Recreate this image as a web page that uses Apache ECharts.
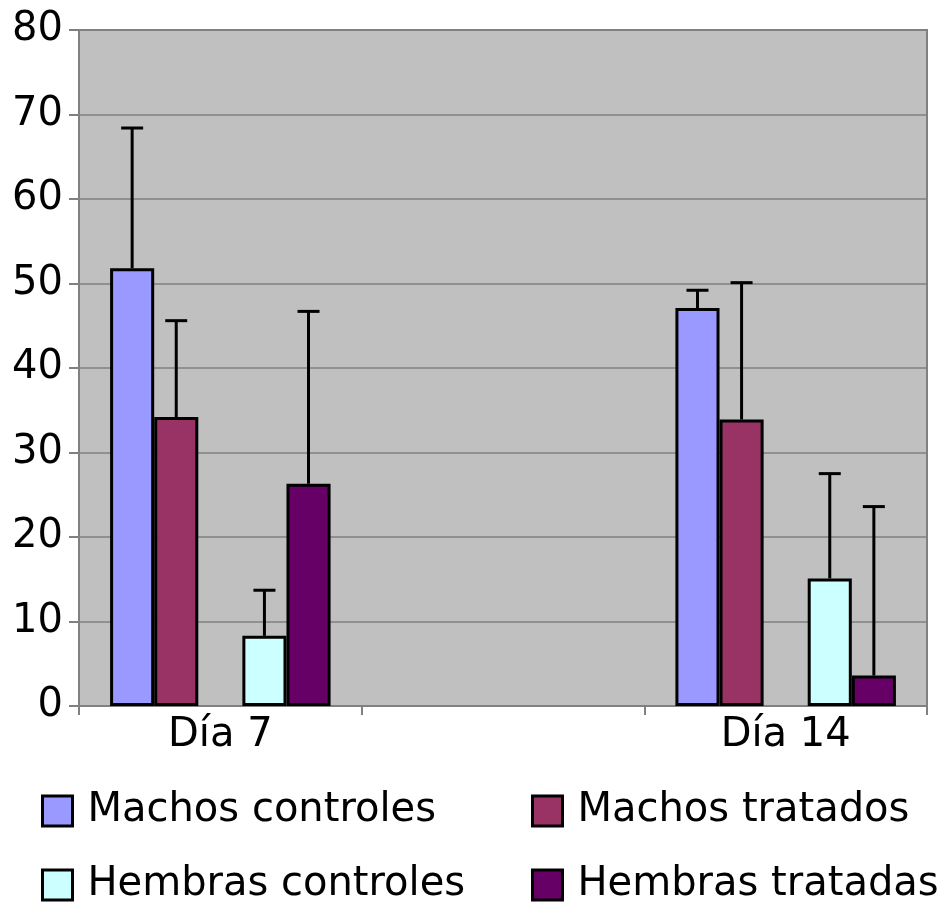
<!DOCTYPE html>
<html>
<head>
<meta charset="utf-8">
<script src="https://cdn.jsdelivr.net/npm/echarts@6/dist/echarts.min.js"></script>
<style>html,body{margin:0;padding:0;background:#fff;}#c{width:949px;height:906px;}</style>
</head>
<body>
<div id="c"></div>
<script>
const categories = ['Día 7', '', 'Día 14'];
const seriesNames = ['Machos controles', 'Machos tratados', 'Hembras controles', 'Hembras tratadas'];
const machosControles = [51.8, '-', 47.1];
const machosTratados = [34.2, '-', 33.9];
const hembrasControles = [8.3, '-', 15.1];
const hembrasTratadas = [26.3, '-', 3.6];
// upward error (delta above bar)
const errMachosControles = [16.6, '-', 2.1];
const errMachosTratados = [11.4, '-', 16.2];
const errHembrasControles = [5.4, '-', 12.4];
const errHembrasTratadas = [20.4, '-', 20.0];
const yTicks = [0, 10, 20, 30, 40, 50, 60, 70, 80];

const colors = ['#9999ff', '#993366', '#ccffff', '#660066'];
const values = [machosControles, machosTratados, hembrasControles, hembrasTratadas];
const errs = [errMachosControles, errMachosTratados, errHembrasControles, errHembrasTratadas];
const slots = [-2, -1, 1, 2];
const CAT_GAP = 0.22;

const font = 'DejaVu Sans';
const series = [];
const barSeries = (name, data, color) => ({
  name, type: 'bar', data, barGap: '0%', barCategoryGap: (CAT_GAP * 100) + '%',
  itemStyle: { color, borderColor: '#000', borderWidth: 3 },
  emphasis: { disabled: true }, z: 2
});
series.push(barSeries(seriesNames[0], values[0], colors[0]));
series.push(barSeries(seriesNames[1], values[1], colors[1]));
series.push({ name: '_gap', type: 'bar', data: ['-', '-', '-'], barGap: '0%', barCategoryGap: (CAT_GAP * 100) + '%', itemStyle: { color: 'transparent' } });
series.push(barSeries(seriesNames[2], values[2], colors[2]));
series.push(barSeries(seriesNames[3], values[3], colors[3]));

values.forEach((vals, i) => {
  const data = categories.map((c, k) => (vals[k] === '-' ? null : [k, vals[k], errs[i][k]])).filter(d => d);
  series.push({
    type: 'custom', name: seriesNames[i] + ' err', data, z: 1,
    renderItem: (params, api) => {
      const k = api.value(0), v = api.value(1), e = api.value(2);
      const base = api.coord([k, v]);
      const top = api.coord([k, v + e]);
      const bandW = api.size([1, 0])[0];
      const barW = bandW * (1 - CAT_GAP) / 5;
      const x = base[0] + slots[i] * barW;
      const style = { stroke: '#000', lineWidth: 3 };
      return { type: 'group', children: [
        { type: 'line', shape: { x1: x, y1: base[1], x2: x, y2: top[1] }, style },
        { type: 'line', shape: { x1: x - 11, y1: top[1], x2: x + 11, y2: top[1] }, style }
      ]};
    }
  });
});

const legendItem = (name, left, top) => ({
  orient: 'horizontal', icon: 'rect', itemWidth: 30, itemHeight: 30,
  textStyle: { fontFamily: font, fontSize: 40, color: '#000', padding: [0, 0, 0, 10] },
  itemStyle: { borderColor: '#000', borderWidth: 3 },
  selectedMode: false, left, top, padding: 0, data: [name]
});

const chart = echarts.init(document.getElementById('c'));
chart.setOption({
  animation: false,
  backgroundColor: '#fff',
  grid: { left: 79, right: 22, top: 30, bottom: 200, show: true, backgroundColor: '#c0c0c0', borderColor: '#808080', borderWidth: 2 },
  legend: [
    legendItem(seriesNames[0], 41, 791),
    legendItem(seriesNames[2], 41, 865),
    legendItem(seriesNames[1], 531, 791),
    legendItem(seriesNames[3], 531, 865)
  ],
  xAxis: {
    type: 'category', data: categories,
    axisLine: { lineStyle: { color: '#808080', width: 2 } },
    axisTick: { show: true, length: 9, lineStyle: { color: '#808080', width: 2 } },
    axisLabel: { fontFamily: font, fontSize: 40, color: '#000', margin: 10 },
    splitLine: { show: false }
  },
  yAxis: {
    type: 'value', min: yTicks[0], max: yTicks[yTicks.length - 1], interval: 10,
    axisLine: { show: true, lineStyle: { color: '#808080', width: 2 } },
    axisTick: { show: true, length: 10, lineStyle: { color: '#808080', width: 2 } },
    axisLabel: { fontFamily: font, fontSize: 40, color: '#000', margin: 16 },
    splitLine: { show: true, lineStyle: { color: '#808080', width: 1.5 } }
  },
  series
});
</script>
</body>
</html>
